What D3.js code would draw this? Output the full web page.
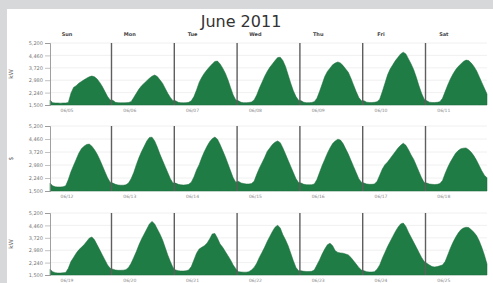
<!DOCTYPE html>
<html>
<head>
<meta charset="utf-8">
<script src="https://cdn.jsdelivr.net/npm/d3@7"></script>
<style>
  body { margin: 0; background: #fff; }
  svg { display: block; font-family: "DejaVu Sans", Verdana, sans-serif; }
</style>
</head>
<body>
<div id="viz"></div>
<script>
const w = 493;
const h = 283;

const title = 'June 2011';
const days = ['Sun', 'Mon', 'Tue', 'Wed', 'Thu', 'Fri', 'Sat'];
const yTicks = [1500, 2240, 2980, 3720, 4460, 5200];
const units = ['kW', '$', 'kW'];
const dates = [
  ['06/05', '06/06', '06/07', '06/08', '06/09', '06/10', '06/11'],
  ['06/12', '06/13', '06/14', '06/15', '06/16', '06/17', '06/18'],
  ['06/19', '06/20', '06/21', '06/22', '06/23', '06/24', '06/25']
];

// hourly load, one array per day
const week1 = [
  [1800,1640,1620,1620,1610,1620,1620,1650,2200,2550,2650,2800,2900,3000,3100,3180,3230,3180,3050,2850,2600,2300,2000,1800],
  [1780,1660,1640,1630,1630,1640,1650,1700,1950,2200,2450,2650,2800,2950,3100,3220,3290,3200,3000,2800,2500,2200,1950,1760],
  [1750,1660,1640,1630,1640,1660,1750,2000,2400,2850,3150,3400,3600,3780,3950,4100,4120,3950,3700,3400,3000,2550,2100,1800],
  [1750,1660,1640,1640,1650,1680,1800,2100,2500,2850,3200,3500,3750,3950,4150,4330,4350,4150,3800,3300,2800,2350,2000,1780],
  [1750,1660,1640,1640,1650,1700,1900,2300,2750,3200,3500,3700,3900,4000,4070,4000,3850,3650,3450,3100,2700,2300,1950,1750],
  [1750,1670,1650,1650,1660,1700,1850,2300,2800,3300,3650,3900,4150,4350,4550,4650,4550,4250,3950,3600,3150,2650,2200,1850],
  [1750,1670,1650,1650,1660,1700,1900,2300,2700,3050,3350,3600,3800,3950,4100,4180,4150,4000,3800,3550,3200,2850,2500,2150]
];
const week2 = [
  [1950,1800,1740,1730,1730,1740,1800,2150,2600,2950,3300,3650,3900,4050,4150,4170,4050,3850,3600,3300,2950,2600,2250,2000],
  [1950,1880,1840,1830,1830,1850,1950,2200,2550,3000,3400,3750,4050,4350,4550,4560,4350,4000,3600,3250,2900,2550,2200,1950],
  [1950,1880,1850,1840,1850,1880,2000,2300,2700,3000,3400,3750,4050,4300,4480,4570,4450,4150,3800,3450,3050,2650,2250,2000],
  [2050,1960,1920,1900,1900,1920,2050,2450,2800,3100,3400,3750,3950,4150,4280,4350,4250,3950,3600,3250,2900,2550,2200,1980],
  [1950,1880,1860,1850,1860,1900,2150,2550,2950,3300,3650,3950,4200,4350,4450,4400,4200,3900,3600,3250,2900,2550,2200,2000],
  [1950,1900,1880,1880,1900,2050,2400,2750,3000,3150,3350,3550,3750,3950,4100,4220,4100,3850,3550,3300,2950,2600,2250,1980],
  [1950,1900,1880,1870,1880,1920,2100,2500,2850,3150,3400,3650,3800,3900,3940,3950,3850,3700,3500,3250,2950,2650,2400,2250]
];
const week3 = [
  [1850,1700,1640,1620,1620,1630,1650,1900,2300,2550,2800,3000,3150,3300,3500,3700,3770,3600,3300,3000,2700,2400,2100,1900],
  [1850,1800,1780,1780,1790,1820,1950,2200,2550,2900,3300,3650,3950,4250,4550,4700,4550,4250,3950,3600,3150,2700,2300,1950],
  [1800,1760,1740,1740,1750,1800,2000,2400,2800,3050,3150,3250,3400,3650,3950,3980,3700,3350,3150,2900,2650,2400,2100,1880],
  [1700,1680,1670,1670,1700,1800,1950,2200,2550,2850,3150,3500,3800,4100,4350,4470,4300,3900,3600,3250,2800,2350,1950,1750],
  [1750,1720,1710,1710,1720,1800,2100,2400,2750,3050,3300,3400,3250,2950,2850,2820,2800,2750,2700,2550,2350,2150,1950,1800],
  [1750,1700,1680,1680,1700,1850,2100,2500,2850,3200,3500,3800,4100,4350,4550,4600,4400,4050,3750,3450,3150,2850,2550,2300],
  [2200,2100,2000,1980,2000,2050,2100,2300,2700,3100,3450,3750,4000,4200,4300,4350,4330,4200,4050,3850,3550,3150,2700,2150]
];
const weeks = [week1, week2, week3];

// panel vertical extents
const panels = [
  { top: 43, bottom: 105 },
  { top: 126, bottom: 191 },
  { top: 213, bottom: 275 }
];

const left = 50;
const right = 487;

const svg = d3.select('#viz').append('svg')
    .attr('width', w)
    .attr('height', h);

// grey frame behind the white sheet
svg.append('rect')
    .attr('width', w)
    .attr('height', h)
    .attr('fill', '#d6d8da');
svg.append('rect')
    .attr('x', 7)
    .attr('y', 9)
    .attr('width', w - 7)
    .attr('height', h - 9)
    .attr('fill', '#fff');

svg.append('text')
    .attr('x', 241)
    .attr('y', 27)
    .attr('text-anchor', 'middle')
    .attr('font-size', 16)
    .attr('fill', '#333')
    .text(title);

const x = d3.scaleLinear()
    .domain([0, 167])
    .range([left, right]);

const dayStart = d => x(d * 24 - 0.5);

svg.append('g')
    .selectAll('text')
    .data(days)
    .join('text')
    .attr('x', (d, i) => x(i * 24) + 17)
    .attr('y', 36)
    .attr('text-anchor', 'middle')
    .attr('font-size', 5)
    .attr('font-weight', 'bold')
    .attr('fill', '#444')
    .text(d => d);

weeks.forEach((week, k) => {
  const p = panels[k];
  const y = d3.scaleLinear()
      .domain([1500, 5200])
      .range([p.bottom, p.top]);

  const g = svg.append('g');

  // grid
  g.append('g')
      .selectAll('line')
      .data(yTicks)
      .join('line')
      .attr('x1', left)
      .attr('x2', right)
      .attr('y1', d => y(d))
      .attr('y2', d => y(d))
      .attr('stroke', '#ececec')
      .attr('stroke-width', 0.8);

  const values = week.flat();
  const area = d3.area()
      .x((d, i) => x(i))
      .y0(y(1500))
      .y1(d => y(d));

  g.append('path')
      .datum(values)
      .attr('d', area)
      .attr('fill', '#1f7c45')
      .attr('stroke', '#1a6b3b')
      .attr('stroke-width', 0.5);

  // day separators
  g.append('g')
      .selectAll('line')
      .data(d3.range(1, 7))
      .join('line')
      .attr('x1', d => dayStart(d))
      .attr('x2', d => dayStart(d))
      .attr('y1', p.top)
      .attr('y2', p.bottom)
      .attr('stroke', '#5e5e5e')
      .attr('stroke-width', 1.4);

  const axis = g.append('g')
      .attr('transform', `translate(${left},0)`)
      .call(d3.axisLeft(y).tickValues(yTicks).tickSize(5).tickPadding(2).tickFormat(d3.format(',')));
  axis.select('.domain').attr('stroke', '#888').attr('stroke-width', 0.8);
  axis.selectAll('.tick line').attr('stroke', '#999').attr('stroke-width', 0.6);
  axis.selectAll('.tick text')
      .attr('font-size', 5)
      .attr('font-family', '"DejaVu Sans", sans-serif')
      .attr('fill', '#777');

  g.append('text')
      .attr('transform', `translate(13,${(p.top + p.bottom) / 2}) rotate(-90)`)
      .attr('text-anchor', 'middle')
      .attr('font-size', 6)
      .attr('fill', '#666')
      .text(units[k]);

  g.append('g')
      .selectAll('text')
      .data(dates[k])
      .join('text')
      .attr('x', (d, i) => x(i * 24) + 17)
      .attr('y', p.bottom + 7)
      .attr('text-anchor', 'middle')
      .attr('font-size', 4.5)
      .attr('fill', '#888')
      .text(d => d);
});
</script>
</body>
</html>
